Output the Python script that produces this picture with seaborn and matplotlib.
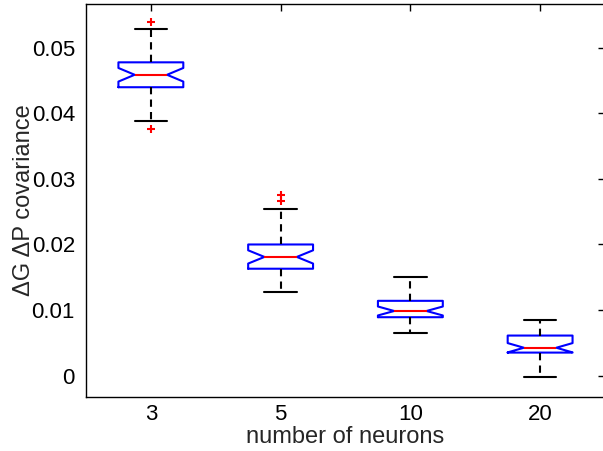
import numpy as np
import pandas as pd
import seaborn as sns
import matplotlib.pyplot as plt

NEURON_LABELS = ['3', '5', '10', '20']

cov_3 = [0.0376, 0.0389, 0.0405, 0.0418, 0.0426, 0.0431, 0.0435, 0.0438,
         0.0440, 0.0443, 0.0446, 0.0449, 0.0451, 0.0454, 0.0456, 0.0458,
         0.0459, 0.0461, 0.0463, 0.0466, 0.0469, 0.0472, 0.0474, 0.0476,
         0.0478, 0.0481, 0.0485, 0.0490, 0.0497, 0.0505, 0.0516, 0.0529,
         0.0539]
cov_5 = [0.0128, 0.0137, 0.0144, 0.0149, 0.0153, 0.0156, 0.0159, 0.0161,
         0.0163, 0.0165, 0.0167, 0.0170, 0.0173, 0.0175, 0.0177, 0.0179,
         0.0181, 0.0183, 0.0185, 0.0188, 0.0191, 0.0193, 0.0196, 0.0198,
         0.0200, 0.0204, 0.0209, 0.0215, 0.0223, 0.0234, 0.0254, 0.0267,
         0.0276]
cov_10 = [0.0065, 0.0071, 0.0076, 0.0080, 0.0083, 0.0085, 0.0087, 0.0088,
          0.0089, 0.0090, 0.0091, 0.0092, 0.0094, 0.0095, 0.0096, 0.0097,
          0.00985, 0.0100, 0.0102, 0.0104, 0.0106, 0.0108, 0.0110, 0.0112,
          0.0114, 0.0117, 0.0120, 0.0124, 0.0128, 0.0133, 0.0138, 0.0144,
          0.0150]
cov_20 = [-0.0003, 0.0008, 0.0016, 0.0022, 0.0026, 0.0029, 0.0032, 0.0034,
          0.0035, 0.0036, 0.0037, 0.0038, 0.0039, 0.0040, 0.0041, 0.0042,
          0.00424, 0.0044, 0.0047, 0.0050, 0.0053, 0.0055, 0.0057, 0.0059,
          0.0061, 0.0063, 0.0065, 0.0068, 0.0071, 0.0074, 0.0077, 0.0080,
          0.0085]

Y_TICKS = [0, 0.01, 0.02, 0.03, 0.04, 0.05]
Y_TICK_LABELS = ['0', '0.01', '0.02', '0.03', '0.04', '0.05']

df = pd.DataFrame({
    'neurons': np.repeat(NEURON_LABELS, [len(cov_3), len(cov_5), len(cov_10), len(cov_20)]),
    'cov': cov_3 + cov_5 + cov_10 + cov_20,
})

sns.set_style('white')
plt.rcParams['font.family'] = ['Liberation Sans', 'DejaVu Sans']
plt.rcParams['font.size'] = 16

fig = plt.figure(figsize=(6.03, 4.51), dpi=100)
ax = fig.add_axes([0.1426, 0.1197, 0.8607, 0.8714])

sns.boxplot(data=df, x='neurons', y='cov', order=NEURON_LABELS, ax=ax,
            fill=False, notch=True, width=0.5, whis=1.5,
            boxprops=dict(color='blue', linewidth=1.5),
            medianprops=dict(color='red', linewidth=1.5),
            whiskerprops=dict(color='black', linewidth=1.5, linestyle=(0, (3.5, 2.5))),
            capprops=dict(color='black', linewidth=1.5),
            flierprops=dict(marker='+', markeredgecolor='red', markersize=6,
                            markeredgewidth=1.5))

ax.set_xlim(-0.5, 3.5)
ax.set_ylim(-0.00328, 0.0567)
ax.set_yticks(Y_TICKS)
ax.set_yticklabels(Y_TICK_LABELS)
ax.tick_params(direction='in', length=5, width=1, top=True, right=True,
               labelsize=16, colors='black')
ax.tick_params(axis='y', pad=8)
ax.tick_params(axis='x', pad=5)
for s in ax.spines.values():
    s.set_color('black')
    s.set_linewidth(1.0)
ax.set_xlabel('number of neurons', fontsize=17, labelpad=0.5)
ax.set_ylabel('ΔG ΔP covariance', fontsize=17, labelpad=-2.5)

fig.savefig('out.png', dpi=100)
